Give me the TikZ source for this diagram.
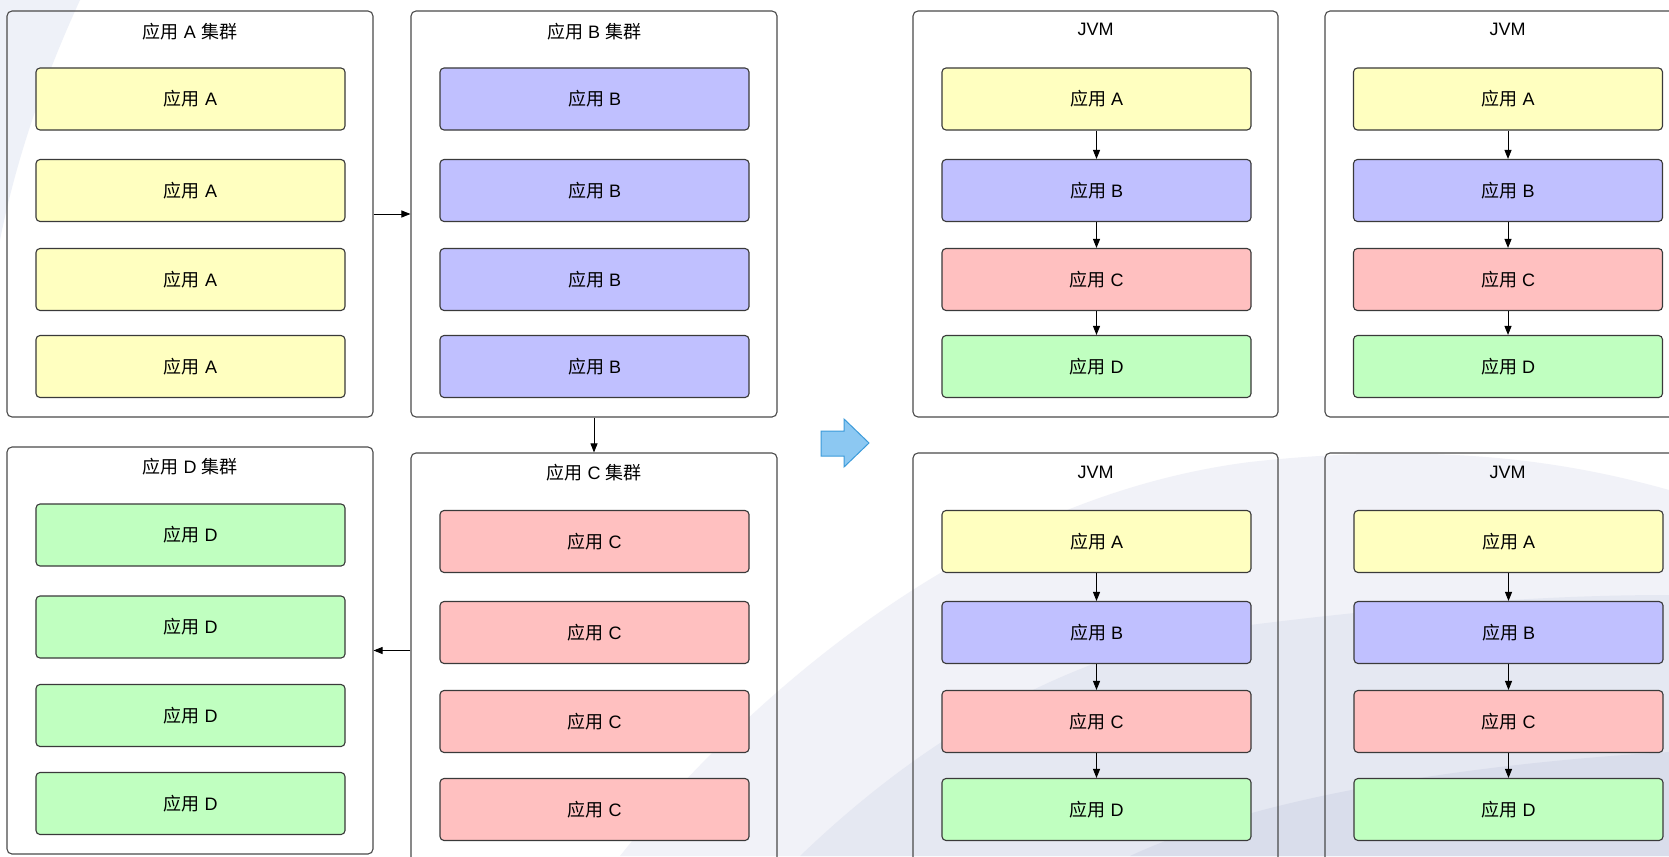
\documentclass[tikz,border=0pt]{standalone}
\usepackage{fontspec}
\setmainfont{Liberation Sans}
\newfontfamily\cjk{Noto Sans CJK SC}
\usetikzlibrary{arrows.meta}
\definecolor{appA}{HTML}{FFFFC0}
\definecolor{appB}{HTML}{C0C0FF}
\definecolor{appC}{HTML}{FFC0C0}
\definecolor{appD}{HTML}{C0FFC0}
\definecolor{boxline}{HTML}{3A3A3A}
\definecolor{grpline}{HTML}{4A4A4A}
\definecolor{swA}{HTML}{EEF1F8}
\definecolor{swB}{HTML}{F1F2F8}
\definecolor{swC}{HTML}{E5E8F2}
\definecolor{swD}{HTML}{D9DDEB}
\definecolor{bigarrowfill}{HTML}{8CC8F2}
\definecolor{bigarrowline}{HTML}{3C9BDA}
\newcommand{\yy}{{\cjk 应用}}
\newcommand{\jq}{{\cjk 集群}}
\tikzset{
  app/.style={draw=boxline, line width=1.1pt, rounded corners=4pt,
              minimum width=309pt, minimum height=62pt, inner sep=0pt},
  grp/.style={draw=grpline, line width=1.1pt, rounded corners=5pt,
              minimum width=366pt, inner sep=0pt},
  title/.style={inner sep=0pt},
  flow/.style={draw=black, line width=0.9pt, -{Triangle[length=9pt,width=7pt]}},
}
\begin{document}
\begin{tikzpicture}[x=1pt,y=-1pt,font=\fontsize{18}{21}\selectfont]
\useasboundingbox (0,0) rectangle (1669,856);
\clip (0,0) rectangle (1669,856);
\fill[white] (0,0) rectangle (1669,856);

% soft background sweeps
\fill[swA] (0,0) -- (80,0) .. controls (48,70) and (18,150) .. (0,240) -- cycle;
\fill[swB] (620,856) .. controls (720,730) and (950,500) .. (1250,462)
  .. controls (1450,440) and (1580,465) .. (1669,490) -- (1669,856) -- cycle;
\fill[swC] (800,856) .. controls (900,760) and (1050,650) .. (1250,625)
  .. controls (1450,600) and (1580,595) .. (1669,595) -- (1669,856) -- cycle;
\fill[swD] (1130,856) .. controls (1250,800) and (1450,765) .. (1669,752) -- (1669,856) -- cycle;

% ---------- clusters ----------
\node[grp, minimum height=406pt] (gA) at (190,214) {};
\node[title] (tA) at (190,32) {\yy{} A \jq};
\node[grp, minimum height=406pt] (gB) at (594,214) {};
\node[title] (tB) at (594,32) {\yy{} B \jq};
\node[grp, minimum height=407pt] (gD) at (190,650.5) {};
\node[title] (tD) at (190,467) {\yy{} D \jq};
\node[grp, minimum height=440pt] (gC) at (594,673) {};
\node[title] (tC) at (594,473) {\yy{} C \jq};

\foreach \i/\y in {1/99,2/190.5,3/279.5,4/366.5}{
  \node[app, fill=appA] (a\i) at (190.5,\y) {\yy{} A};
  \node[app, fill=appB] (b\i) at (594.5,\y) {\yy{} B};
}
\foreach \i/\y in {1/535,2/627,3/715.5,4/803.5}{
  \node[app, fill=appD] (d\i) at (190.5,\y) {\yy{} D};
}
\foreach \i/\y in {1/541.5,2/632.5,3/721.5,4/809.5}{
  \node[app, fill=appC] (c\i) at (594.5,\y) {\yy{} C};
}

\draw[flow] (gA.east) -- (gB.west);
\draw[flow] (gB.south) -- (gC.north);
\draw[flow] (gC.west |- gD.east) -- (gD.east);

% ---------- transition arrow ----------
\filldraw[fill=bigarrowfill, draw=bigarrowline, line width=1pt, line join=miter]
  (821,431) -- (844,431) -- (844,419) -- (869,443) -- (844,467) -- (844,456) -- (821,456) -- cycle;

% ---------- JVMs ----------
\foreach \n/\gx/\gy/\bx/\ra/\rb/\rc/\rd/\ty/\h in
  {p/1095.5/214/1096.5/99/190.5/279.5/366.5/29/406,
   q/1507.5/214/1508/99/190.5/279.5/366.5/29/406,
   r/1095.5/673/1096.5/541.5/632.5/721.5/809.5/472/440,
   s/1507.5/673/1508.5/541.5/632.5/721.5/809.5/472/440}{
  \node[grp, minimum height=\h pt, minimum width=365pt] (j\n) at (\gx,\gy) {};
  \node[title] (jt\n) at (\gx,\ty) {JVM};
  \node[app, fill=appA] (\n a) at (\bx,\ra) {\yy{} A};
  \node[app, fill=appB] (\n b) at (\bx,\rb) {\yy{} B};
  \node[app, fill=appC] (\n c) at (\bx,\rc) {\yy{} C};
  \node[app, fill=appD] (\n d) at (\bx,\rd) {\yy{} D};
  \draw[flow] (\n a) -- (\n b);
  \draw[flow] (\n b) -- (\n c);
  \draw[flow] (\n c) -- (\n d);
}
\end{tikzpicture}
\end{document}
